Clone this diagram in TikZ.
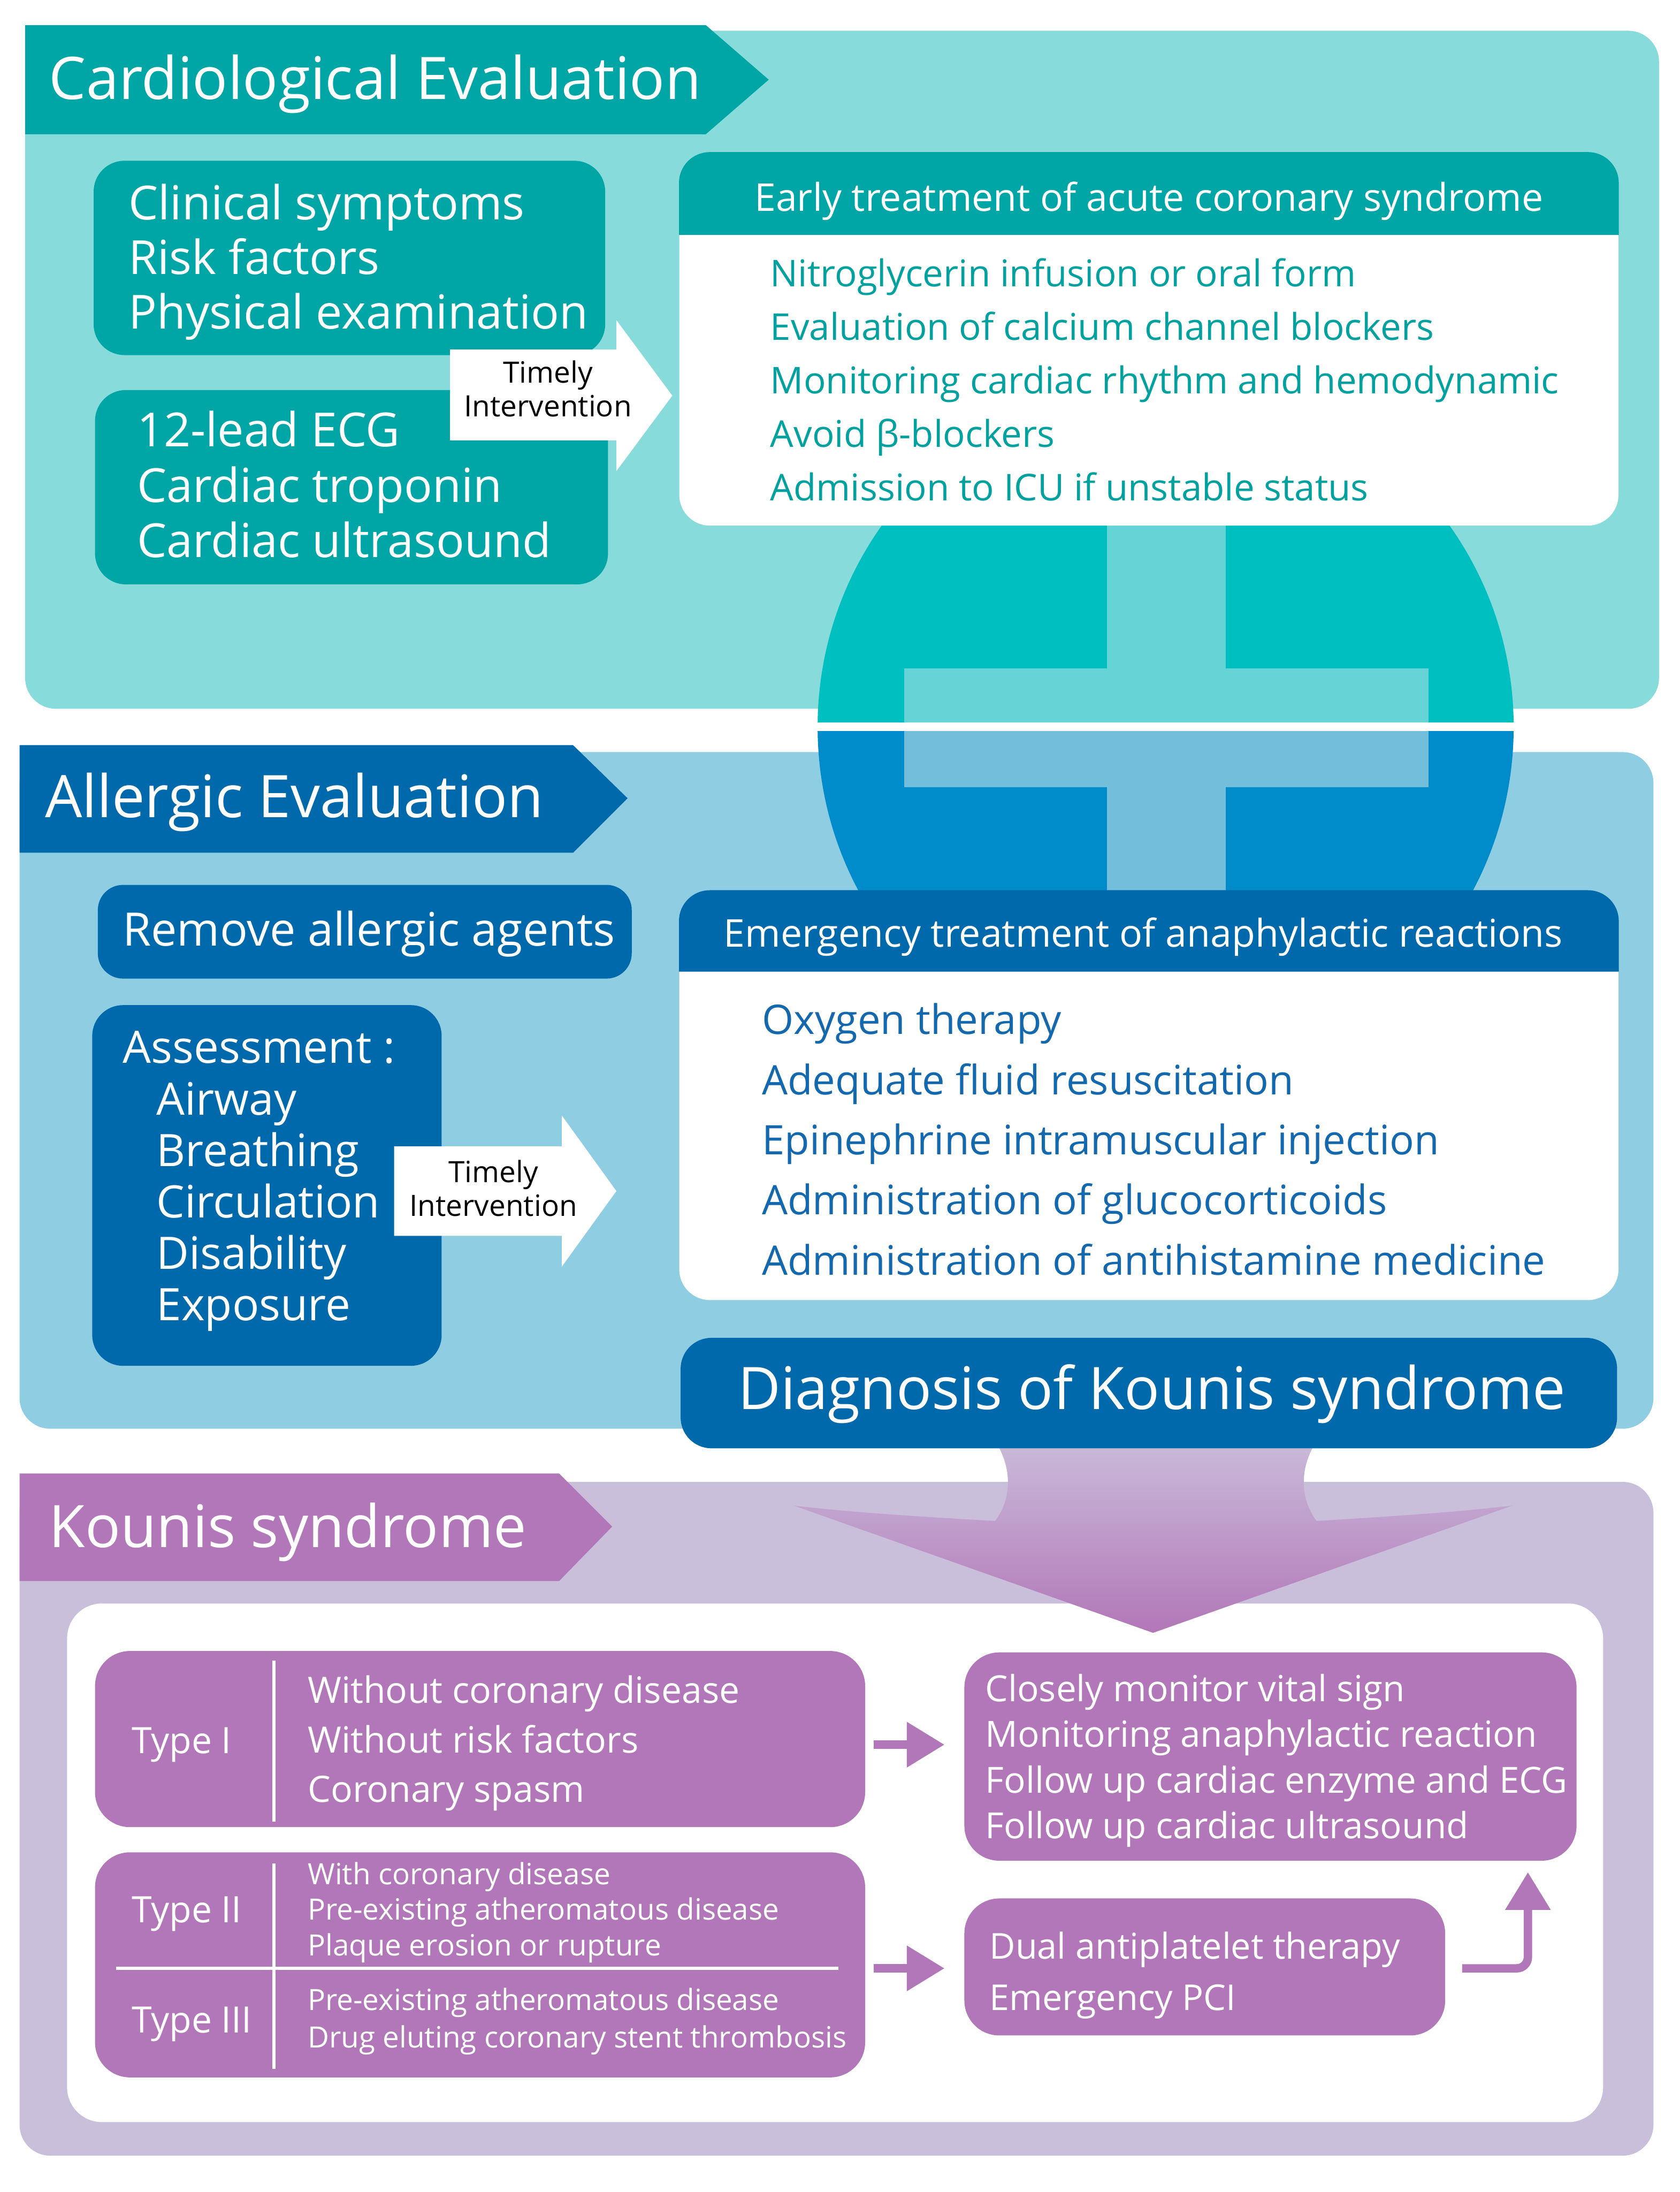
\documentclass[tikz,border=0pt]{standalone}
\usepackage{fontspec}
\setmainfont{Open Sans}
\usetikzlibrary{arrows.meta, positioning, calc}

\definecolor{cardbg}{HTML}{87DBDA}
\definecolor{cardmain}{HTML}{00A6A6}
\definecolor{cardtext}{HTML}{00A19E}
\definecolor{cardcirc}{HTML}{00BFC1}
\definecolor{cardcross}{HTML}{66D4D6}
\definecolor{allbg}{HTML}{8ECDE2}
\definecolor{allmain}{HTML}{0069AB}
\definecolor{alltext}{HTML}{1468AE}
\definecolor{allcirc}{HTML}{008CCB}
\definecolor{allcross}{HTML}{73BEDA}
\definecolor{koubg}{HTML}{C9BFDB}
\definecolor{koumain}{HTML}{B277B8}
\definecolor{kouarrtop}{HTML}{C9B8D8}

\newcommand{\fsz}[2]{\fontsize{#1}{#2}\selectfont}

\begin{document}
\begin{tikzpicture}[
  x=1pt, y=-1pt,
  panel/.style={rounded corners=22pt, inner sep=0pt},
  cardbox/.style={panel, fill=cardmain},
  allbox/.style={panel, fill=allmain},
  koubox/.style={panel, fill=koumain, rounded corners=25pt},
  whitebox/.style={panel, fill=white},
  title/.style={anchor=west, inner sep=0pt, text=white, font=\fsz{42}{48}},
  txt/.style={anchor=west, inner sep=0pt, align=left, text=white},
  timely/.style={inner sep=0pt, align=center, text=black, font=\fsz{21}{24}},
  parrow/.style={draw=koumain, line width=6pt, -{Triangle[length=27pt, width=31pt]}}
]
\useasboundingbox (0,0) rectangle (1202,1568);
\fill[white] (0,0) rectangle (1202,1568);

% section backgrounds
\fill[cardbg, rounded corners=22pt] (18,22) rectangle (1187,507);
\fill[allbg, rounded corners=22pt] (14,538) rectangle (1183,1022);
\fill[koubg, rounded corners=22pt] (14,1060) rectangle (1183,1542);
\fill[white, rounded corners=25pt] (48,1147) rectangle (1147,1518);

% title banners
\fill[cardmain] (18,18) -- (505,18) -- (550,57) -- (505,96) -- (18,96) -- cycle;
\fill[allmain] (14,533) -- (410,533) -- (449,571) -- (410,610) -- (14,610) -- cycle;
\fill[koumain] (14,1054) -- (400,1054) -- (438,1092) -- (400,1131) -- (14,1131) -- cycle;
\node[title] (cardtitle) at (35,60) {Cardiological Evaluation};
\node[title] (alltitle) at (32,574) {Allergic Evaluation};
\node[title] (koutitle) at (35,1096) {Kounis syndrome};

% medical cross
\begin{scope}
  \clip (500,200) rectangle (1200,516.5);
  \fill[cardcirc] (834,520) circle[radius=249];
  \fill[cardcross] (792,200) rectangle (877,520);
  \fill[cardcross] (647,478) rectangle (1022,520);
\end{scope}
\begin{scope}
  \clip (500,523) rectangle (1200,800);
  \fill[allcirc] (834,520) circle[radius=249];
  \fill[allcross] (792,520) rectangle (877,800);
  \fill[allcross] (647,520) rectangle (1022,563);
\end{scope}

% cardiological evaluation
\node[cardbox, minimum width=366pt, minimum height=139pt] (clin) at (250,184.5) {};
\node[txt, font=\fsz{33.6}{39}, right=25pt of clin.west, yshift=-3pt] (clintxt) {Clinical symptoms\\Risk factors\\Physical examination};
\node[cardbox, minimum width=367pt, minimum height=139pt] (ecg) at (251.5,348.5) {};
\node[txt, font=\fsz{33.6}{39.5}, right=30pt of ecg.west, yshift=2pt] (ecgtxt) {12-lead ECG\\Cardiac troponin\\Cardiac ultrasound};

\fill[white] (322,250) -- (441,250) -- (441,229) -- (481,283) -- (441,337) -- (441,315) -- (322,315) -- cycle;
\node[timely] (cardtimely) at (392,278) {Timely\\Intervention};

\node[whitebox, minimum width=672pt, minimum height=267pt] (acs) at (822,242.5) {};
\fill[cardmain] (acs.west |- 0,168) [rounded corners=22pt] -- (acs.north west) -- (acs.north east) [sharp corners] -- (acs.east |- 0,168) -- cycle;
\node[txt, anchor=center, font=\fsz{27.4}{32}] (acshead) at (822,144) {Early treatment of acute coronary syndrome};
\node[txt, text=cardtext, font=\fsz{26.4}{38.3}] (acsitems) at (551,271.5) {Nitroglycerin infusion or oral form\\Evaluation of calcium channel blockers\\Monitoring cardiac rhythm and hemodynamic\\Avoid β-blockers\\Admission to ICU if unstable status};

% allergic evaluation
\node[allbox, minimum width=382pt, minimum height=67pt, rounded corners=18pt] (remove) at (261,666.5) {};
\node[txt, anchor=center, font=\fsz{33}{38}] (removetxt) at (264,668) {Remove allergic agents};
\node[allbox, minimum width=250pt, minimum height=258pt] (assess) at (191,848) {};
\node[txt, font=\fsz{32}{36.8}, right=22pt of assess.west, yshift=3pt] (assesstxt) {Assessment :\\
  \hspace*{24pt}Airway\\\hspace*{24pt}Breathing\\\hspace*{24pt}Circulation\\\hspace*{24pt}Disability\\\hspace*{24pt}Exposure};

\fill[white] (282,820) -- (402,820) -- (402,798) -- (441,852) -- (402,906) -- (402,884) -- (282,884) -- cycle;
\node[timely] (alltimely) at (353,850) {Timely\\Intervention};

\node[whitebox, minimum width=672pt, minimum height=293pt] (ana) at (822,783.5) {};
\fill[allmain] (ana.west |- 0,695) [rounded corners=22pt] -- (ana.north west) -- (ana.north east) [sharp corners] -- (ana.east |- 0,695) -- cycle;
\node[txt, anchor=center, font=\fsz{27.4}{32}] (anahead) at (818,670) {Emergency treatment of anaphylactic reactions};
\node[txt, text=alltext, font=\fsz{29.1}{43}] (anaitems) at (545,815) {Oxygen therapy\\Adequate fluid resuscitation\\Epinephrine intramuscular injection\\Administration of glucocorticoids\\Administration of antihistamine medicine};

% diagnosis arrow
\shade[top color=kouarrtop, bottom color=koumain]
  (715,1036) .. controls (725,1055) and (722,1075) .. (712,1088)
  .. controls (660,1085) and (610,1082) .. (568,1077)
  -- (825,1168) -- (1082,1077)
  .. controls (1040,1082) and (990,1085) .. (942,1088)
  .. controls (932,1075) and (929,1055) .. (939,1036) -- cycle;
\node[allbox, minimum width=670pt, minimum height=79pt] (diag) at (822,996.5) {};
\node[txt, anchor=center, font=\fsz{42}{48}] (diagtxt) at (824,997) {Diagnosis of Kounis syndrome};

% kounis syndrome
\node[koubox, minimum width=551pt, minimum height=126pt] (typeI) at (343.5,1244) {};
\draw[white, line width=2.5pt] (196,1188) -- (196,1303);
\node[txt, font=\fsz{26}{30}] (typeIlab) at (94,1248) {Type I};
\node[txt, font=\fsz{26}{35.5}] (typeItxt) at (220,1247) {Without coronary disease\\Without risk factors\\Coronary spasm};

\node[koubox, minimum width=551pt, minimum height=161pt] (typeII) at (343.5,1405.5) {};
\draw[white, line width=2.5pt] (196,1333) -- (196,1480);
\draw[white, line width=2.5pt] (83,1408) -- (600,1408);
\node[txt, font=\fsz{26}{30}] (typeIIlab) at (94,1369) {Type II};
\node[txt, font=\fsz{26}{30}] (typeIIIlab) at (94,1448) {Type III};
\node[txt, font=\fsz{21}{25.5}] (typeIItxt) at (220,1368) {With coronary disease\\Pre-existing atheromatous disease\\Plaque erosion or rupture};
\node[txt, font=\fsz{21}{27}] (typeIIItxt) at (220,1446) {Pre-existing atheromatous disease\\Drug eluting coronary stent thrombosis};

\node[koubox, minimum width=438pt, minimum height=149pt] (mon) at (909,1256.5) {};
\node[txt, font=\fsz{25.8}{32.7}, right=15pt of mon.west, yshift=-3pt] (montxt) {Closely monitor vital sign\\Monitoring anaphylactic reaction\\Follow up cardiac enzyme and ECG\\Follow up cardiac ultrasound};
\node[koubox, minimum width=344pt, minimum height=98pt] (dual) at (862,1407) {};
\node[txt, font=\fsz{25.5}{37}, right=18pt of dual.west, yshift=-6pt] (dualtxt) {Dual antiplatelet therapy\\Emergency PCI};

\draw[parrow] ($(typeI.east)+(6,4)$) coordinate (a1) -- ($(a1 -| mon.west)+(-14,0)$);
\draw[parrow] ($(typeII.east)+(6,2.5)$) coordinate (a2) -- ($(a2 -| dual.west)+(-14,0)$);
\draw[parrow, rounded corners=8pt] ($(dual.east)+(12,1)$) -| ($(mon.south east)+(-35,8)$);
\end{tikzpicture}
\end{document}
